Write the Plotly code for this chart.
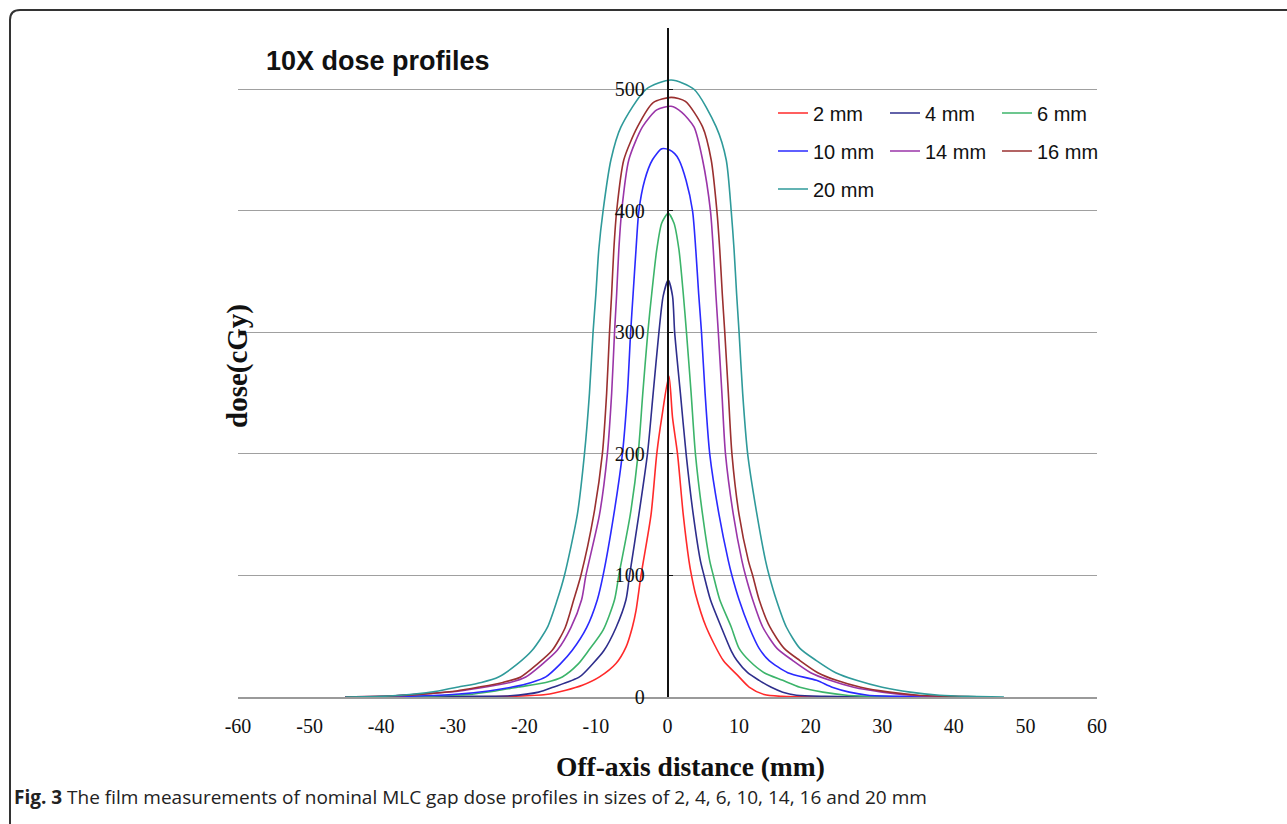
import plotly.graph_objects as go

# ---------------- data ----------------
gap_labels = ["2 mm", "4 mm", "6 mm", "10 mm", "14 mm", "16 mm", "20 mm"]
colors = ["#ff2a2a", "#2e2e8c", "#3cb46a", "#2a2aff", "#9a35a8", "#9a3030", "#2f9a9a"]

x_2mm = [-45, -30, -22, -17, -14.2, -11.9, -9.5, -7.2, -5.8, -4.9, -4.4, -3.7, -2.3, -1.5, -0.8, 0.2,
         0.7, 1.4, 2.2, 3.0, 3.35, 3.9, 5.4, 7.8, 9.8, 11.4, 13.5, 16, 22, 30, 45]
y_2mm = [0, 0, 0.5, 2, 5.5, 9.6, 16.5, 27.5, 41, 57.6, 71, 100, 150, 200, 230, 264,
         230, 200, 150, 112, 100, 85, 57.6, 30, 17.8, 8.2, 2, 0.5, 0, 0, 0]

x_4mm = [-45, -30, -22, -18, -16, -12.3, -10.5, -8.9, -7.2, -5.8, -5.3, -4.0, -2.8, -2.0, -1.2, -0.6, 0.1,
         0.7, 1.0, 1.8, 2.6, 3.6, 4.6, 5.1, 6.0, 7.5, 8.9, 9.7, 11.2, 12.8, 14.5, 16.1, 18, 22, 30, 45]
y_4mm = [0, 0.5, 1, 4, 8, 16.5, 27, 38, 57, 80, 100, 150, 200, 250, 300, 330, 343,
         330, 300, 250, 200, 150, 112, 100, 80, 57.6, 38, 30, 20, 13.7, 8, 4, 1.5, 0.5, 0, 0]

x_6mm = [-45, -35, -28, -24, -20.8, -17, -14.7, -12.5, -11.0, -9.0, -7.4, -6.8, -5.2, -4.1, -3.45, -2.75, -2.2, -1.5, -0.8, 0.1,
         0.9, 1.6, 2.2, 2.65, 3.3, 3.9, 4.9, 5.9, 6.4, 7.3, 8.9, 10.0, 11.4, 13.5, 16.1, 18.5, 21.7, 25, 30, 35, 45]
y_6mm = [0, 0.5, 2, 5, 8.2, 12, 16.5, 27, 38.4, 55, 80, 100, 150, 200, 250, 300, 332, 368, 390, 398,
         390, 368, 332, 300, 250, 200, 150, 112, 100, 80, 57.6, 40, 30, 20, 13.7, 8, 4, 1.5, 0.5, 0, 0]

x_10mm = [-45, -37, -30, -25, -21.7, -19, -17.0, -15, -13.3, -11.3, -9.8, -9.0, -7.5, -6.3, -5.6, -5.15, -4.8, -4.4, -4.0, -3.2, -2.1, -0.8, 0.3,
          1.0, 1.6, 2.6, 3.5, 3.95, 4.35, 4.75, 5.25, 5.9, 7.2, 8.5, 9.0, 10.0, 11.4, 12.8, 14.2, 16.8, 20.8, 23, 25.4, 28, 33, 40, 45]
y_10mm = [0, 0.5, 2, 5, 8.2, 12, 16.5, 27, 38.4, 57, 80, 100, 150, 200, 250, 300, 332, 368, 400, 425, 442, 451, 450,
          447, 442, 425, 400, 368, 332, 300, 250, 200, 150, 112, 100, 80, 57.6, 40, 30, 20, 13.7, 8, 4, 1.5, 0.5, 0, 0]

x_14mm = [-45, -38, -33, -29, -25.4, -22, -19.8, -17.5, -15.4, -13.5, -12.0, -11.4, -9.5, -8.4, -7.8, -7.4, -7.1, -6.8, -6.4, -5.4, -3.5, -1.5, 0.5,
          2.0, 3.7, 4.9, 6.0, 6.4, 6.75, 7.1, 7.6, 8.1, 9.2, 10.4, 10.9, 11.9, 13.3, 15.3, 17.5, 20, 22.7, 26, 30, 34, 38, 45]
y_14mm = [0, 1, 3, 5, 8.2, 12, 16.5, 27, 38.4, 57, 80, 100, 150, 200, 250, 300, 332, 368, 400, 442, 469, 483, 486,
          481, 469, 442, 400, 368, 332, 300, 250, 200, 150, 112, 100, 80, 57.6, 40, 30, 20, 13.7, 8, 4, 1.5, 0.5, 0]

x_16mm = [-45, -38, -33, -29.5, -26.3, -23, -20.5, -18.2, -16.1, -14.3, -13.1, -12.1, -10.3, -9.1, -8.5, -8.1, -7.8, -7.5, -7.1, -6.1, -4.2, -2.0, 0.5,
          2.5, 4.9, 6.1, 6.9, 7.3, 7.65, 8.0, 8.5, 9.0, 10.0, 11.3, 11.9, 12.8, 14.3, 16.3, 18.5, 21, 23.6, 27, 31, 35, 40, 45]
y_16mm = [0, 1, 3, 5, 8.2, 12, 16.5, 27, 38.4, 57, 80, 100, 150, 200, 250, 300, 332, 368, 400, 442, 469, 489, 493.3,
          490, 469, 442, 400, 368, 332, 300, 250, 200, 150, 112, 100, 80, 57.6, 40, 30, 20, 13.7, 8, 4, 1.5, 0.5, 0]

x_20mm = [-45, -40, -36, -32, -29.2, -26, -23.6, -21, -18.9, -16.8, -15.4, -14.4, -12.6, -11.6, -10.9, -10.4, -10.0, -9.6, -9.0, -7.9, -6.5, -3.0, 0.5,
          3.7, 6.8, 8.2, 8.9, 9.3, 9.65, 10.0, 10.5, 11.2, 12.5, 13.7, 14.2, 15.2, 16.6, 18.5, 20.8, 23.5, 26.4, 30, 33.9, 38, 42, 47]
y_20mm = [0, 0.5, 2, 5, 8.2, 12, 16.5, 27, 38.4, 57, 80, 100, 150, 200, 250, 300, 332, 368, 400, 442, 469, 500, 507.6,
          500, 469, 442, 400, 368, 332, 300, 250, 200, 150, 112, 100, 80, 57.6, 40, 30, 20, 13.7, 8, 4, 1.5, 0.5, 0]

series_x = [x_2mm, x_4mm, x_6mm, x_10mm, x_14mm, x_16mm, x_20mm]
series_y = [y_2mm, y_4mm, y_6mm, y_10mm, y_14mm, y_16mm, y_20mm]
legend_rows = ["legend", "legend", "legend", "legend2", "legend2", "legend2", "legend3"]

x_ticks = [-60, -50, -40, -30, -20, -10, 0, 10, 20, 30, 40, 50, 60]
y_ticks = [0, 100, 200, 300, 400, 500]

# ---------------- layout helpers (pixel -> paper) ----------------
W, H = 1287, 824
L, R, T, B = 238, 1097, 28, 697


def px(x):
    return (x - L) / (R - L)


def py(y):
    return (B - y) / (B - T)


fig = go.Figure()
for xs, ys, name, col, lg in zip(series_x, series_y, gap_labels, colors, legend_rows):
    fig.add_trace(go.Scatter(x=xs, y=ys, mode="lines", name=name, legend=lg,
                             line=dict(color=col, width=1.6, shape="spline", smoothing=0.7)))

serif = "Liberation Serif"
sans = "Liberation Sans"

legend_common = dict(orientation="h", xanchor="left", yanchor="middle",
                     font=dict(family=sans, size=20, color="#111"),
                     bgcolor="rgba(0,0,0,0)", entrywidth=67, entrywidthmode="pixels",
                     tracegroupgap=0, itemwidth=30)

fig.update_layout(
    width=W, height=H,
    margin=dict(l=L, r=W - R, t=T, b=H - B, pad=0),
    paper_bgcolor="white", plot_bgcolor="white",
    showlegend=True,
    legend=dict(x=px(773), y=py(113), **legend_common),
    legend2=dict(x=px(773), y=py(151), **legend_common),
    legend3=dict(x=px(773), y=py(189), **legend_common),
    xaxis=dict(range=[-60, 60], tickvals=x_ticks, ticktext=[str(v) for v in x_ticks],
               showgrid=False, zeroline=False, showline=True, linecolor="#9a9a9a", linewidth=2,
               ticks="", ticklabelstandoff=10,
               tickfont=dict(family=serif, size=20, color="#111")),
    yaxis=dict(range=[0, 550.4], tickvals=y_ticks, ticktext=[str(v) for v in y_ticks],
               anchor="free", position=0.5,
               showgrid=True, gridcolor="#a0a0a0", gridwidth=1.2, zeroline=False,
               showline=True, linecolor="#111", linewidth=1.6,
               ticks="inside", ticklen=5, tickcolor="#111", tickwidth=1.4,
               ticklabelstandoff=18,
               tickfont=dict(family=serif, size=20, color="#111")),
)

annotations = [
    dict(text="<b>10X dose profiles</b>", x=px(264), y=py(61), xanchor="left", yanchor="middle",
         font=dict(family=sans, size=27, color="#111")),
    dict(text="<b>Off-axis distance (mm)</b>", x=px(690), y=py(766), xanchor="center", yanchor="middle",
         font=dict(family=serif, size=27.5, color="#111")),
    dict(text="<b>dose(cGy)</b>", x=px(237), y=py(366), xanchor="center", yanchor="middle", textangle=-90,
         font=dict(family=serif, size=29, color="#111")),
    dict(text="<b>Fig. 3</b> The film measurements of nominal MLC gap dose profiles in sizes of 2, 4, 6, 10, 14, 16 and 20 mm",
         x=px(12), y=py(797), xanchor="left", yanchor="middle",
         font=dict(family="Open Sans", size=19, color="#222")),
]
for a in annotations:
    a.update(xref="paper", yref="paper", showarrow=False)
fig.update_layout(annotations=annotations)

# rounded frame around the figure (top-left corner visible)
lx, ty, rx_, by = px(10), py(10), px(1295), py(840)
rx, ry = 10 / (R - L), 10 / (B - T)
path = f"M {lx},{by} L {lx},{ty - ry} Q {lx},{ty} {lx + rx},{ty} L {rx_},{ty}"
fig.add_shape(type="path", path=path, xref="paper", yref="paper",
              line=dict(color="#333", width=2))

fig.write_html("out.html")
